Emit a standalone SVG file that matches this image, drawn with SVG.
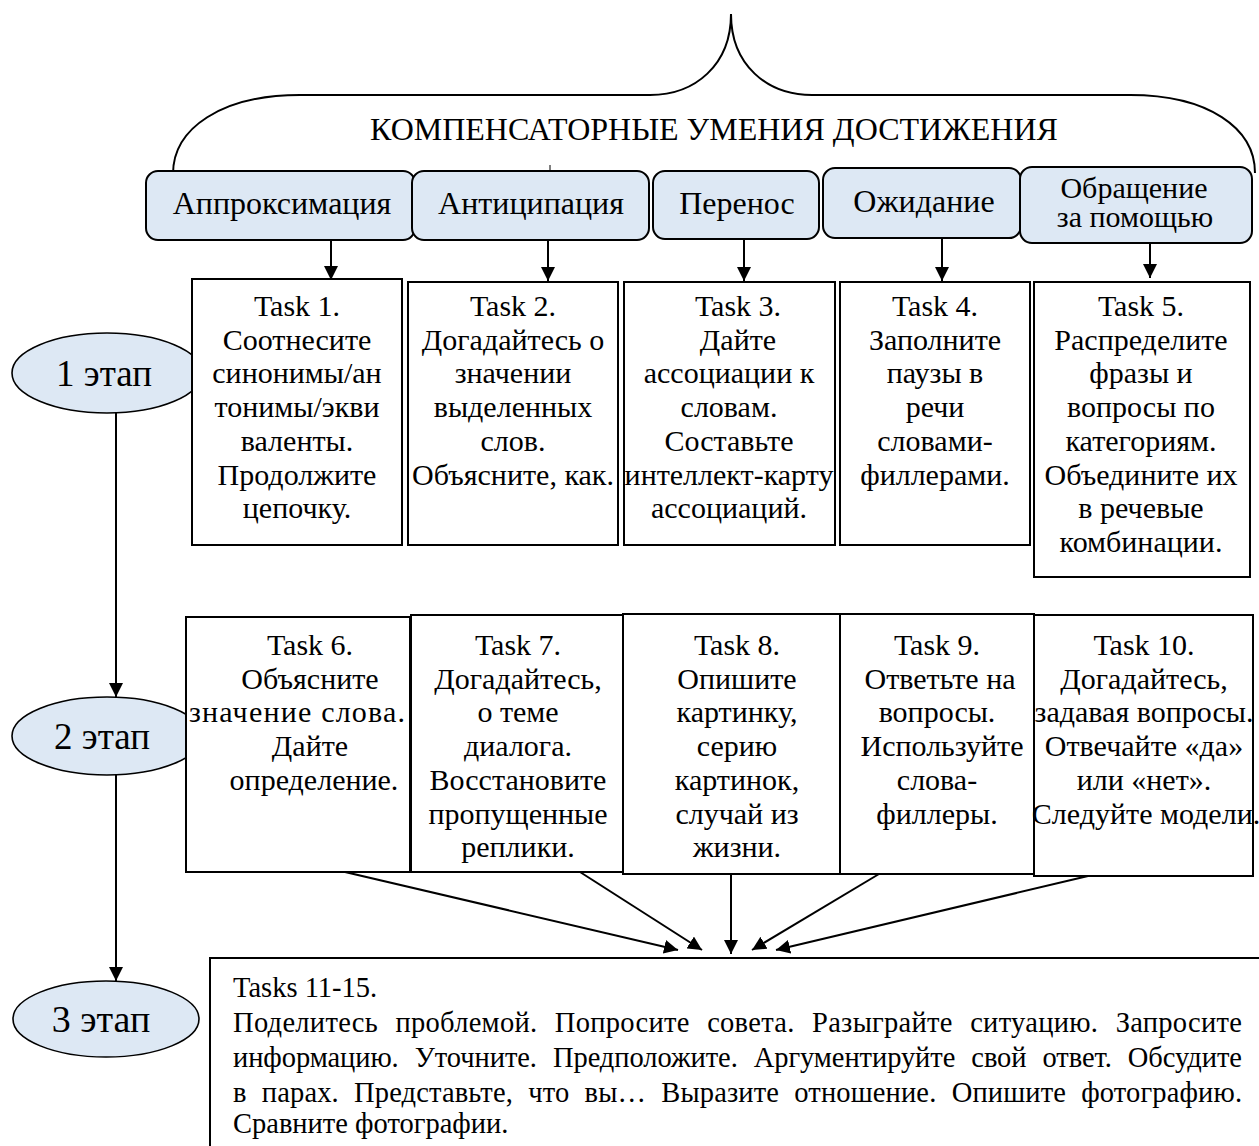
<svg xmlns="http://www.w3.org/2000/svg" width="1259" height="1146" viewBox="0 0 1259 1146" font-family="'Liberation Serif','Times New Roman',serif">
<defs>
<style>
text{font-family:"Liberation Serif","Times New Roman",serif;fill:#000}
.hdr{fill:#dde8f4;stroke:#000;stroke-width:2}
.box{fill:#fff;stroke:#000;stroke-width:2}
.stage{fill:#dde8f4;stroke:#000;stroke-width:1.6}
.t{font-size:30px;text-anchor:middle}
.h{font-size:32px;text-anchor:middle}
.h2{font-size:30px;text-anchor:middle}
.s{font-size:37px;text-anchor:middle}
.b{font-size:28.5px}
.ln{stroke:#000;stroke-width:2;fill:none}
</style>
<marker id="ah2" viewBox="0 0 10 10" refX="10" refY="5" markerWidth="14" markerHeight="14" markerUnits="userSpaceOnUse" orient="auto">
<path d="M0,0 L10,5 L0,10 z" fill="#000"/>
</marker>
</defs>

<g id="brace">
<path class="ln" stroke-width="1.6" d="M173 174 C173 128 222 95 300 95 L650 95 C695 95 731 65 731 14 C731 65 767 95 812 95 L1130 95 C1208 95 1255 128 1255 173"/>
<text x="714" y="140" style="font-size:32px;text-anchor:middle">КОМПЕНСАТОРНЫЕ УМЕНИЯ ДОСТИЖЕНИЯ</text>
<line x1="550" y1="165" x2="550" y2="171" stroke="#000" stroke-width="1"/>
</g>

<g id="stage1"><ellipse class="stage" cx="107" cy="373" rx="95" ry="40"/><text class="s" x="104" y="386">1 этап</text></g>
<g id="stage2"><ellipse class="stage" cx="107" cy="736" rx="95" ry="39"/><text class="s" x="102" y="749">2 этап</text></g>
<g id="stage3"><ellipse class="stage" cx="106" cy="1019" rx="93" ry="38"/><text class="s" x="101" y="1032" style="font-size:38px">3 этап</text></g>

<g id="connectors">
<line class="ln" x1="331" y1="240" x2="331" y2="280" marker-end="url(#ah2)"/>
<line class="ln" x1="548" y1="240" x2="548" y2="281" marker-end="url(#ah2)"/>
<line class="ln" x1="744" y1="239" x2="744" y2="281" marker-end="url(#ah2)"/>
<line class="ln" x1="942" y1="238" x2="942" y2="281" marker-end="url(#ah2)"/>
<line class="ln" x1="1150" y1="243" x2="1150" y2="278" marker-end="url(#ah2)"/>
<line class="ln" x1="116" y1="413" x2="116" y2="697" marker-end="url(#ah2)"/>
<line class="ln" x1="116" y1="775" x2="116" y2="981" marker-end="url(#ah2)"/>
<line class="ln" x1="345" y1="872" x2="678" y2="950" marker-end="url(#ah2)"/>
<line class="ln" x1="580" y1="872" x2="702" y2="950" marker-end="url(#ah2)"/>
<line class="ln" x1="731" y1="874" x2="731" y2="954" marker-end="url(#ah2)"/>
<line class="ln" x1="879" y1="874" x2="752" y2="950" marker-end="url(#ah2)"/>
<line class="ln" x1="1088" y1="876" x2="776" y2="950" marker-end="url(#ah2)"/>
</g>

<g id="h1"><rect class="hdr" x="146" y="171" width="269" height="69" rx="12"/><text class="h" x="282" y="214">Аппроксимация</text></g>
<g id="h2"><rect class="hdr" x="412" y="171" width="237" height="69" rx="12"/><text class="h" x="531" y="214">Антиципация</text></g>
<g id="h3"><rect class="hdr" x="653" y="171" width="166" height="68" rx="12"/><text class="h" x="737" y="214">Перенос</text></g>
<g id="h4"><rect class="hdr" x="823" y="168" width="198" height="70" rx="12"/><text class="h" x="924" y="212">Ожидание</text></g>
<g id="h5"><rect class="hdr" x="1020" y="167" width="232" height="76" rx="12"/><text class="h2" x="1134" y="198">Обращение</text><text class="h2" x="1135" y="227">за помощью</text></g>

<g id="task1"><rect class="box" x="192" y="279" width="210" height="266"/>
<text class="t" y="316"><tspan x="297">Task 1.</tspan><tspan x="297" dy="33.7">Соотнесите</tspan><tspan x="297" dy="33.7">синонимы/ан</tspan><tspan x="297" dy="33.7">тонимы/экви</tspan><tspan x="297" dy="33.7">валенты.</tspan><tspan x="297" dy="33.7">Продолжите</tspan><tspan x="297" dy="33.7">цепочку.</tspan></text></g>
<g id="task2"><rect class="box" x="408" y="282" width="210" height="263"/>
<text class="t" y="316"><tspan x="513">Task 2.</tspan><tspan x="513" dy="33.7">Догадайтесь о</tspan><tspan x="513" dy="33.7">значении</tspan><tspan x="513" dy="33.7">выделенных</tspan><tspan x="513" dy="33.7">слов.</tspan><tspan x="513" dy="33.7">Объясните, как.</tspan></text></g>
<g id="task3"><rect class="box" x="624" y="282" width="211" height="263"/>
<text class="t" y="316"><tspan x="738">Task 3.</tspan><tspan x="738" dy="33.7">Дайте</tspan><tspan x="729" dy="33.7">ассоциации к</tspan><tspan x="729" dy="33.7">словам.</tspan><tspan x="729" dy="33.7">Составьте</tspan><tspan x="729" dy="33.7">интеллект-карту</tspan><tspan x="729" dy="33.7">ассоциаций.</tspan></text></g>
<g id="task4"><rect class="box" x="840" y="282" width="190" height="263"/>
<text class="t" y="316"><tspan x="935">Task 4.</tspan><tspan x="935" dy="33.7">Заполните</tspan><tspan x="935" dy="33.7">паузы в</tspan><tspan x="935" dy="33.7">речи</tspan><tspan x="935" dy="33.7">словами-</tspan><tspan x="935" dy="33.7">филлерами.</tspan></text></g>
<g id="task5"><rect class="box" x="1034" y="282" width="216" height="295"/>
<text class="t" y="316"><tspan x="1141">Task 5.</tspan><tspan x="1141" dy="33.7">Распределите</tspan><tspan x="1141" dy="33.7">фразы и</tspan><tspan x="1141" dy="33.7">вопросы по</tspan><tspan x="1141" dy="33.7">категориям.</tspan><tspan x="1141" dy="33.7">Объедините их</tspan><tspan x="1141" dy="33.7">в речевые</tspan><tspan x="1141" dy="33.7">комбинации.</tspan></text></g>

<g id="task6"><rect class="box" x="186" y="617" width="224" height="255"/>
<text class="t" y="655"><tspan x="310">Task 6.</tspan><tspan x="310" dy="33.7">Объясните</tspan></text>
<text x="189" y="722.4" style="font-size:30px" textLength="216" lengthAdjust="spacing">значение слова.</text>
<text class="t" y="756.1"><tspan x="310">Дайте</tspan><tspan x="314" dy="33.7">определение.</tspan></text></g>
<g id="task7"><rect class="box" x="411" y="615" width="213" height="257"/>
<text class="t" y="655"><tspan x="518">Task 7.</tspan><tspan x="518" dy="33.7">Догадайтесь,</tspan><tspan x="518" dy="33.7">о теме</tspan><tspan x="518" dy="33.7">диалога.</tspan><tspan x="518" dy="33.7">Восстановите</tspan><tspan x="518" dy="33.7">пропущенные</tspan><tspan x="518" dy="33.7">реплики.</tspan></text></g>
<g id="task8"><rect class="box" x="623" y="614" width="217" height="260"/>
<text class="t" y="655"><tspan x="737">Task 8.</tspan><tspan x="737" dy="33.7">Опишите</tspan><tspan x="737" dy="33.7">картинку,</tspan><tspan x="737" dy="33.7">серию</tspan><tspan x="737" dy="33.7">картинок,</tspan><tspan x="737" dy="33.7">случай из</tspan><tspan x="737" dy="33.7">жизни.</tspan></text></g>
<g id="task9"><rect class="box" x="840" y="614" width="194" height="260"/>
<text class="t" y="655"><tspan x="937">Task 9.</tspan><tspan x="940" dy="33.7">Ответьте на</tspan><tspan x="937" dy="33.7">вопросы.</tspan><tspan x="942" dy="33.7">Используйте</tspan><tspan x="937" dy="33.7">слова-</tspan><tspan x="937" dy="33.7">филлеры.</tspan></text></g>
<g id="task10"><rect class="box" x="1034" y="615" width="219" height="261"/>
<text class="t" y="655"><tspan x="1144">Task 10.</tspan><tspan x="1144" dy="33.7">Догадайтесь,</tspan><tspan x="1144" dy="33.7">задавая вопросы.</tspan><tspan x="1144" dy="33.7">Отвечайте «да»</tspan><tspan x="1144" dy="33.7">или «нет».</tspan><tspan x="1146" dy="33.7">Следуйте модели.</tspan></text></g>

<g id="tasks11-15"><rect class="box" x="210" y="958" width="1060" height="200"/>
<text class="b" x="233" y="997">Tasks 11-15.</text>
<text class="b" x="233" y="1032" word-spacing="10" textLength="1009" lengthAdjust="spacing">Поделитесь проблемой. Попросите совета. Разыграйте ситуацию. Запросите</text>
<text class="b" x="233" y="1067" word-spacing="9" textLength="1009" lengthAdjust="spacing">информацию. Уточните. Предположите. Аргументируйте свой ответ. Обсудите</text>
<text class="b" x="233" y="1102" word-spacing="8" textLength="1009" lengthAdjust="spacing">в парах. Представьте, что вы… Выразите отношение. Опишите фотографию.</text>
<text class="b" x="233" y="1133">Сравните фотографии.</text>
</g>
</svg>
